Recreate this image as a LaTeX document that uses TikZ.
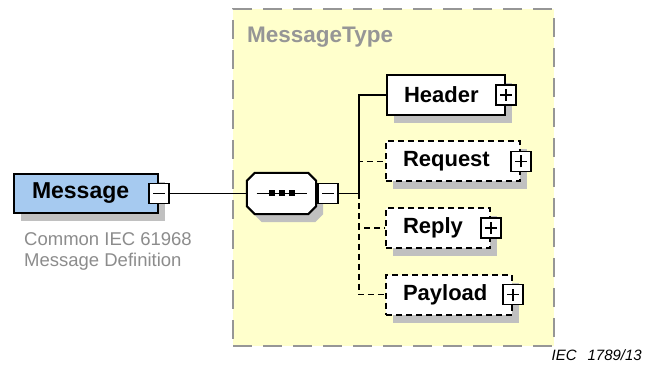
\documentclass[tikz,border=0pt]{standalone}
\usepackage{fontspec}
\setmainfont{Liberation Sans}
\usetikzlibrary{shadows, positioning}

\definecolor{msgblue}{RGB}{166,202,240}
\definecolor{typeyellow}{RGB}{255,255,204}
\definecolor{shadowgray}{RGB}{192,192,192}
\definecolor{framegray}{RGB}{150,150,150}
\definecolor{docgray}{RGB}{140,140,140}

\tikzset{
  boxshadow/.style={drop shadow={shadow xshift=7pt, shadow yshift=-8pt, fill=shadowgray, opacity=1}},
  element/.style={draw, line width=2pt, fill=white, boxshadow, font=\fontsize{22}{26}\selectfont\bfseries,
    align=left, inner xsep=17pt, inner ysep=0pt, minimum height=40pt},
  optional/.style={element, dash pattern=on 6pt off 4pt},
  toggle/.style={draw, line width=1.6pt, fill=white, minimum width=20pt, minimum height=20pt, inner sep=0pt},
  minusbox/.style={toggle, path picture={
    \draw[line width=1.5pt] ([xshift=-6pt]path picture bounding box.center) -- ([xshift=6pt]path picture bounding box.center);}},
  plusbox/.style={toggle, path picture={
    \draw[line width=1.5pt] ([xshift=-6pt]path picture bounding box.center) -- ([xshift=6pt]path picture bounding box.center)
      ([yshift=-6pt]path picture bounding box.center) -- ([yshift=6pt]path picture bounding box.center);}},
  link/.style={line width=1.8pt},
  optlink/.style={link, dash pattern=on 6pt off 4pt},
}

\begin{document}
\begin{tikzpicture}[x=1pt, y=-1pt]
    \useasboundingbox (0,0) rectangle (645,374);
    % Complex type frame
    \node [draw=framegray, line width=2pt, dash pattern=on 19pt off 11pt, fill=typeyellow,
      minimum width=321pt, minimum height=337pt] (mtype) at (393.5,177.5) {};
    \node [anchor=base west, inner sep=0pt, text=framegray, font=\fontsize{22.5}{26}\selectfont\bfseries] (mtlabel) at (247,43) {MessageType};
    % Root element
    \node [element, fill=msgblue, text width=108pt, inner xsep=18pt, minimum height=39pt, font=\fontsize{23}{26}\selectfont\bfseries] (msg) at (86,193.5) {Message};
    \node [minusbox] (msgx) at (msg.east) {};
    \node [anchor=north west, inner sep=0pt, align=left, text=docgray, font=\fontsize{18.5}{21}\selectfont] (msgdoc) at (24,232) {Common IEC 61968\\Message Definition};
    % Sequence compositor
    \node [minimum width=69pt, minimum height=41pt, inner sep=0pt] (seq) at (281.5,193.5) {};
    \draw [line width=2pt, fill=white, boxshadow]
      ([xshift=8pt]seq.north west) -- ([xshift=-8pt]seq.north east) -- ([yshift=-8pt]seq.north east)
      -- ([yshift=8pt]seq.south east) -- ([xshift=-8pt]seq.south east) -- ([xshift=8pt]seq.south west)
      -- ([yshift=8pt]seq.south west) -- ([yshift=-8pt]seq.north west) -- cycle;
    \draw [line width=1.6pt] ([xshift=-25pt]seq.center) -- ([xshift=25pt]seq.center);
    \foreach \dx in {-10,0,10}
      \fill ([xshift=\dx pt]seq.center) +(-3,-3) rectangle +(3,3);
    \node [minusbox, anchor=west] (seqx) at ([xshift=1pt]seq.east) {};
    \coordinate (fork) at ([xshift=20pt]seqx.east);
    % Child elements
    \node [element, text width=84pt] (hdr) at (446,95) {Header};
    \node [optional, text width=100pt] (req) at (453,161.5) {Request};
    \node [optional, text width=70pt] (rep) at (438,228) {Reply};
    \node [optional, text width=92pt] (pay) at (449,294.5) {Payload};
    \node [plusbox] (hdrx) at (hdr.east) {};
    \node [plusbox] (reqx) at (req.east) {};
    \node [plusbox] (repx) at (rep.east) {};
    \node [plusbox] (payx) at (pay.east) {};
    % Connectors
    \draw [link] (msgx.east) -- (seq.west);
    \draw [optlink] (fork) |- (req.west);
    \draw [optlink] (fork) |- (rep.west);
    \draw [optlink] (fork) |- (pay.west);
    \draw [link] (seqx.east) -- (fork) |- (hdr.west);
    % Figure reference
    \node [anchor=base east, inner sep=0pt, font=\fontsize{15}{18}\selectfont\itshape] (figref) at (642,360) {IEC\hspace{11pt}1789/13};
\end{tikzpicture}
\end{document}
